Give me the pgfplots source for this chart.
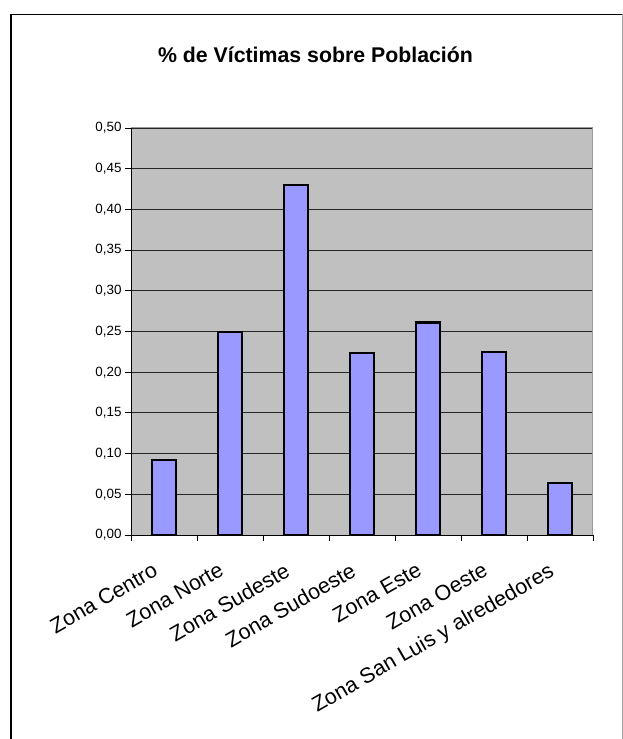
\documentclass[border=0pt]{standalone}
\usepackage{pgfplots}
\pgfplotsset{compat=1.18}
\usepackage{fontspec}
\setmainfont{Liberation Sans}
\definecolor{plotbg}{HTML}{C0C0C0}
\definecolor{barfill}{HTML}{9999FF}
\begin{document}
\begin{tikzpicture}
\path[use as bounding box] (0pt,0pt) rectangle (623pt,739pt);
\draw[black, line width=1.3pt] (11pt,0pt) -- (11pt,724.5pt) -- (622pt,724.5pt);
\draw[gray!70, line width=1pt] (622pt,724.5pt) -- (622pt,0pt);
\node[font=\bfseries\fontsize{21.3}{25}\selectfont] at (315.5pt,684pt) {\% de Víctimas sobre Población};
\begin{axis}[
  at={(131pt,204pt)}, anchor=south west,
  scale only axis, width=462pt, height=407pt,
  xmin=-0.5, xmax=6.5, ymin=0, ymax=0.5,
  ytick={0,0.05,...,0.5},
  xtick={0,...,6},
  xticklabels={Zona Centro,Zona Norte,Zona Sudeste,Zona Sudoeste,Zona Este,Zona Oeste,Zona San Luis y alrededores},
  minor xtick={-0.5,0.5,...,6.5},
  major x tick style={draw=none},
  tick align=outside, tick pos=left,
  major tick length=6pt, minor tick length=6pt,
  tick style={black, line width=0.8pt},
  axis background/.style={fill=plotbg},
  axis line style={black, line width=1pt},
  separate axis lines,
  every outer x axis line/.append style={black},
  ymajorgrids, grid style={black!85, line width=0.8pt},
  /pgf/number format/.cd, use comma, fixed, fixed zerofill, precision=2, assume math mode=true,
  /pgfplots/.cd,
  yticklabel style={font=\fontsize{13.4}{16}\selectfont, xshift=0pt},
  xticklabel style={font=\fontsize{21.5}{25}\selectfont, xshift=-12pt, yshift=-19pt, rotate=30, anchor=north east, inner sep=1pt},
  ybar, bar width=24pt,
]
\addplot[fill=barfill, draw=black, line width=2.2pt] coordinates {
(0,0.092) (1,0.249) (2,0.430) (3,0.224) (4,0.261) (5,0.225) (6,0.064)};
\draw[gray!80, line width=1pt] (rel axis cs:0,1) -- (rel axis cs:1,1) -- (rel axis cs:1,0);
\end{axis}
\end{tikzpicture}
\end{document}
